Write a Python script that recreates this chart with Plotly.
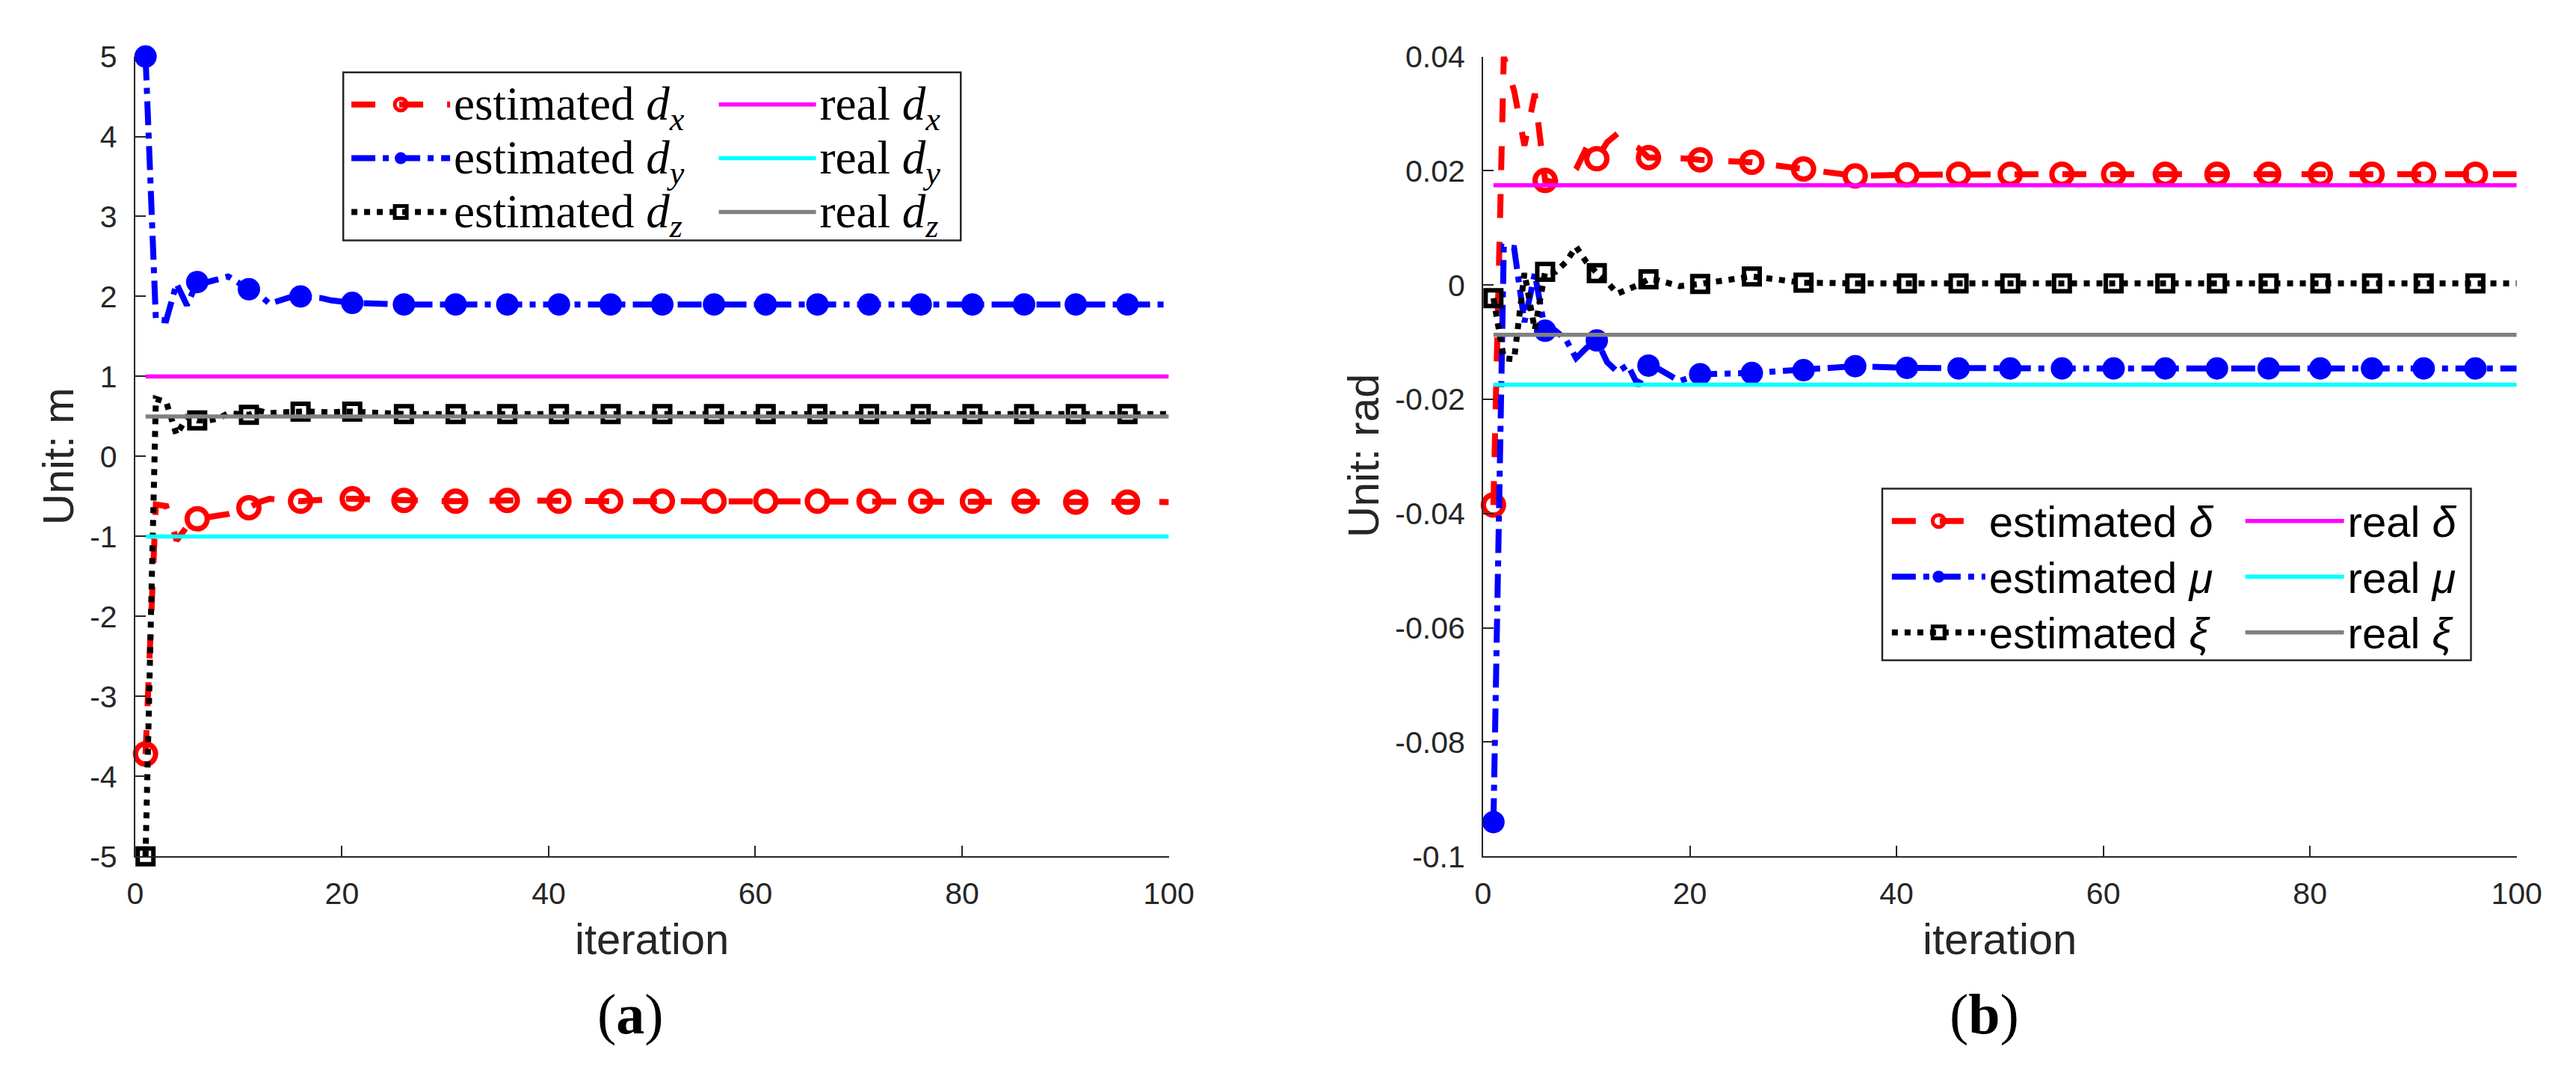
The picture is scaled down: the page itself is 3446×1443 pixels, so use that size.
import plotly.graph_objects as go

# ---------------- data ----------------
ITER = list(range(1, 21)) + list(range(21, 97, 5)) + [100]

# (a) position parameters, unit: m
DX_EST = [-3.72, -0.60, -0.62, -1.05, -0.88, -0.78, -0.76, -0.74, -0.72, -0.68,
          -0.64, -0.57, -0.53, -0.54, -0.55, -0.56, -0.55, -0.54, -0.54, -0.53,
          -0.53, -0.55, -0.56, -0.55, -0.56, -0.56, -0.56, -0.56, -0.56, -0.56,
          -0.56, -0.56, -0.56, -0.56, -0.57, -0.57, -0.57]
DY_EST = [5.00, 1.71, 1.70, 2.16, 1.89, 2.18, 2.18, 2.21, 2.25, 2.17,
          2.09, 2.02, 1.91, 1.96, 1.99, 2.00, 1.99, 1.98, 1.95, 1.93,
          1.92, 1.90, 1.90, 1.90, 1.90, 1.90, 1.90, 1.90, 1.90, 1.90,
          1.90, 1.90, 1.90, 1.90, 1.90, 1.90, 1.90]
DZ_EST = [-5.00, 0.72, 0.68, 0.27, 0.49, 0.45, 0.45, 0.47, 0.54, 0.53,
          0.52, 0.57, 0.54, 0.55, 0.56, 0.56, 0.56, 0.55, 0.55, 0.56,
          0.56, 0.53, 0.53, 0.53, 0.53, 0.53, 0.53, 0.53, 0.53, 0.53,
          0.53, 0.53, 0.53, 0.53, 0.53, 0.53, 0.53]
REAL_D = [1.0, -1.0, 0.5]          # real dx, dy, dz

# (b) angle parameters, unit: rad
DELTA_EST = [-0.0385, 0.0400, 0.0340, 0.0244, 0.0335, 0.0183, 0.0180, 0.0180, 0.0203, 0.0240,
             0.0221, 0.0250, 0.0265, 0.0250, 0.0240, 0.0223, 0.0223, 0.0223, 0.0222, 0.0221,
             0.0219, 0.0215, 0.0203, 0.0191, 0.0193, 0.0194, 0.0194, 0.0194, 0.0194, 0.0194,
             0.0194, 0.0194, 0.0194, 0.0194, 0.0194, 0.0194, 0.0194]
MU_EST = [-0.0940, 0.0067, 0.0065, -0.0065, 0.0020, -0.0080, -0.0080, -0.0095, -0.0128, -0.0110,
          -0.0097, -0.0135, -0.0152, -0.0140, -0.0176, -0.0141, -0.0147, -0.0157, -0.0168, -0.0162,
          -0.0156, -0.0154, -0.0149, -0.0142, -0.0145, -0.0146, -0.0146, -0.0146, -0.0146, -0.0146,
          -0.0146, -0.0146, -0.0146, -0.0146, -0.0146, -0.0146, -0.0146]
XI_EST = [-0.0023, -0.0128, -0.0130, 0.0021, -0.0078, 0.0023, 0.0023, 0.0040, 0.0067, 0.0040,
          0.0021, 0.0005, -0.0015, -0.0008, 0.0000, 0.0010, 0.0008, 0.0003, -0.0002, 0.0000,
          0.0002, 0.0015, 0.0004, 0.0003, 0.0003, 0.0003, 0.0003, 0.0003, 0.0003, 0.0003,
          0.0003, 0.0003, 0.0003, 0.0003, 0.0003, 0.0003, 0.0003]
REAL_ANG = [0.01745, -0.01745, -0.0087]   # real delta, mu, xi

REAL_X = [1, 100]

X_TICKS = [0, 20, 40, 60, 80, 100]
X_TICK_TEXT = ["0", "20", "40", "60", "80", "100"]
YA_TICKS = [-5, -4, -3, -2, -1, 0, 1, 2, 3, 4, 5]
YA_TICK_TEXT = ["-5", "-4", "-3", "-2", "-1", "0", "1", "2", "3", "4", "5"]
YB_TICKS = [-0.1, -0.08, -0.06, -0.04, -0.02, 0, 0.02, 0.04]
YB_TICK_TEXT = ["-0.1", "-0.08", "-0.06", "-0.04", "-0.02", "0", "0.02", "0.04"]

NAMES_A_EST = ["estimated <i>d</i><sub><i>x</i></sub>",
               "estimated <i>d</i><sub><i>y</i></sub>",
               "estimated <i>d</i><sub><i>z</i></sub>"]
NAMES_A_REAL = ["real <i>d</i><sub><i>x</i></sub>",
                "real <i>d</i><sub><i>y</i></sub>",
                "real <i>d</i><sub><i>z</i></sub>"]
NAMES_B_EST = ["estimated <i>δ</i>", "estimated <i>μ</i>", "estimated <i>ξ</i>"]
NAMES_B_REAL = ["real <i>δ</i>", "real <i>μ</i>", "real <i>ξ</i>"]

# ---------------- styles ----------------
W, H = 3446, 1443
AX = "#262626"
LW = 8
EST_STYLE = [
    dict(color="#FF0000", dash="32px,32px", symbol="circle-open", size=27, mlw=7),
    dict(color="#0000FF", dash="32px,10px,8px,10px", symbol="circle", size=30, mlw=0),
    dict(color="#000000", dash="8px,9px", symbol="square-open", size=21, mlw=6),
]
REAL_COLORS = ["#FF00FF", "#00FFFF", "#808080"]


def big(txt, px):
    return '<span style="font-size:%dpx">%s</span>' % (px, txt)


fig = go.Figure()


def add_est(xa, ya, ys, st, name, legend):
    mx = [x for x in ITER if (x - 1) % 5 == 0]
    my = [y for x, y in zip(ITER, ys) if (x - 1) % 5 == 0]
    fig.add_trace(go.Scatter(x=ITER, y=ys, mode="lines", xaxis=xa, yaxis=ya,
                             line=dict(color=st["color"], width=LW, dash=st["dash"]),
                             showlegend=False, cliponaxis=False, hoverinfo="skip"))
    mk = dict(color=st["color"], symbol=st["symbol"], size=st["size"],
              line=dict(color=st["color"], width=st["mlw"]))
    fig.add_trace(go.Scatter(x=mx, y=my, mode="markers", xaxis=xa, yaxis=ya,
                             marker=mk, showlegend=False, cliponaxis=False))
    fig.add_trace(go.Scatter(x=[None], y=[None], mode="lines+markers", xaxis=xa, yaxis=ya,
                             line=dict(color=st["color"], width=LW, dash=st["dash"]),
                             marker=mk, name=name, legend=legend))


def add_real(xa, ya, val, color, name, legend):
    fig.add_trace(go.Scatter(x=REAL_X, y=[val, val], mode="lines", xaxis=xa, yaxis=ya,
                             line=dict(color=color, width=5.5), name=name, legend=legend))


for ys, st, nm in zip([DX_EST, DY_EST, DZ_EST], EST_STYLE, NAMES_A_EST):
    add_est("x", "y", ys, st, big(nm, 63), "legend")
for v, c, nm in zip(REAL_D, REAL_COLORS, NAMES_A_REAL):
    add_real("x", "y", v, c, big(nm, 63), "legend2")
for ys, st, nm in zip([DELTA_EST, MU_EST, XI_EST], EST_STYLE, NAMES_B_EST):
    add_est("x2", "y2", ys, st, big(nm, 58), "legend3")
for v, c, nm in zip(REAL_ANG, REAL_COLORS, NAMES_B_REAL):
    add_real("x2", "y2", v, c, big(nm, 58), "legend4")

TICKFONT = dict(family="Liberation Sans, Arial, sans-serif", size=41, color=AX)
axis_common = dict(ticks="inside", ticklen=14, tickwidth=2, tickcolor=AX,
                   showline=True, linecolor=AX, linewidth=2, showgrid=False,
                   zeroline=False, tickfont=TICKFONT, mirror=False)

YDOM = [1 - 1151 / H, 1 - 46 / H]
fig.update_layout(
    width=W, height=H, margin=dict(l=0, r=0, t=0, b=0),
    paper_bgcolor="white", plot_bgcolor="white",
    xaxis=dict(domain=[164 / W, 1565 / W], range=[0, 100], tickvals=X_TICKS,
               ticktext=X_TICK_TEXT, anchor="y", ticklabelstandoff=12, **axis_common),
    yaxis=dict(domain=YDOM, range=[-5, 5], tickvals=YA_TICKS, ticktext=YA_TICK_TEXT,
               anchor="x", ticklabelstandoff=14, **axis_common),
    xaxis2=dict(domain=[1991 / W, 3392 / W], range=[0, 100], tickvals=X_TICKS,
                ticktext=X_TICK_TEXT, anchor="y2", ticklabelstandoff=12, **axis_common),
    yaxis2=dict(domain=YDOM, range=[-0.1, 0.04], tickvals=YB_TICKS, ticktext=YB_TICK_TEXT,
                anchor="x2", ticklabelstandoff=14, **axis_common),
    showlegend=True,
)

SERIF = "Liberation Serif, Times New Roman, serif"
SANS = "Liberation Sans, Arial, sans-serif"
leg_common = dict(xanchor="left", yanchor="top", bgcolor="rgba(0,0,0,0)",
                  borderwidth=0, tracegroupgap=0, orientation="v")
fig.update_layout(
    legend=dict(x=452 / W, y=1 - 70 / H, itemwidth=132,
                font=dict(family=SERIF, size=53, color="black"), **leg_common),
    legend2=dict(x=950 / W, y=1 - 70 / H, itemwidth=130,
                 font=dict(family=SERIF, size=53, color="black"), **leg_common),
    legend3=dict(x=2540 / W, y=1 - 644 / H, itemwidth=125,
                 font=dict(family=SANS, size=55, color="black"), **leg_common),
    legend4=dict(x=3019 / W, y=1 - 644 / H, itemwidth=132,
                 font=dict(family=SANS, size=55, color="black"), **leg_common),
)

# legend boxes
fig.add_shape(type="rect", xref="paper", yref="paper",
              x0=446 / W, x1=1283 / W, y0=1 - 300 / H, y1=1 - 68 / H,
              line=dict(color=AX, width=2.5), fillcolor="white", layer="above")
fig.add_shape(type="rect", xref="paper", yref="paper",
              x0=2532 / W, x1=3330 / W, y0=1 - 880 / H, y1=1 - 643 / H,
              line=dict(color=AX, width=2.5), fillcolor="white", layer="above")

TITLEFONT = dict(family=SANS, size=58, color=AX)
ann = [
    dict(text="Unit: m", x=60 / W, y=1 - 598 / H, textangle=-90, font=TITLEFONT),
    dict(text="Unit: rad", x=1829 / W, y=1 - 598 / H, textangle=-90, font=TITLEFONT),
    dict(text="iteration", x=864.5 / W, y=1 - 1265 / H, font=TITLEFONT),
    dict(text="iteration", x=2691.5 / W, y=1 - 1265 / H, font=TITLEFONT),
    dict(text="(<b>a</b>)", x=835 / W, y=1 - 1369 / H,
         font=dict(family=SERIF, size=76, color="black")),
    dict(text="(<b>b</b>)", x=2670 / W, y=1 - 1369 / H,
         font=dict(family=SERIF, size=76, color="black")),
]
for a in ann:
    fig.add_annotation(xref="paper", yref="paper", showarrow=False,
                       xanchor="center", yanchor="middle", **a)

fig.write_html("out.html")
